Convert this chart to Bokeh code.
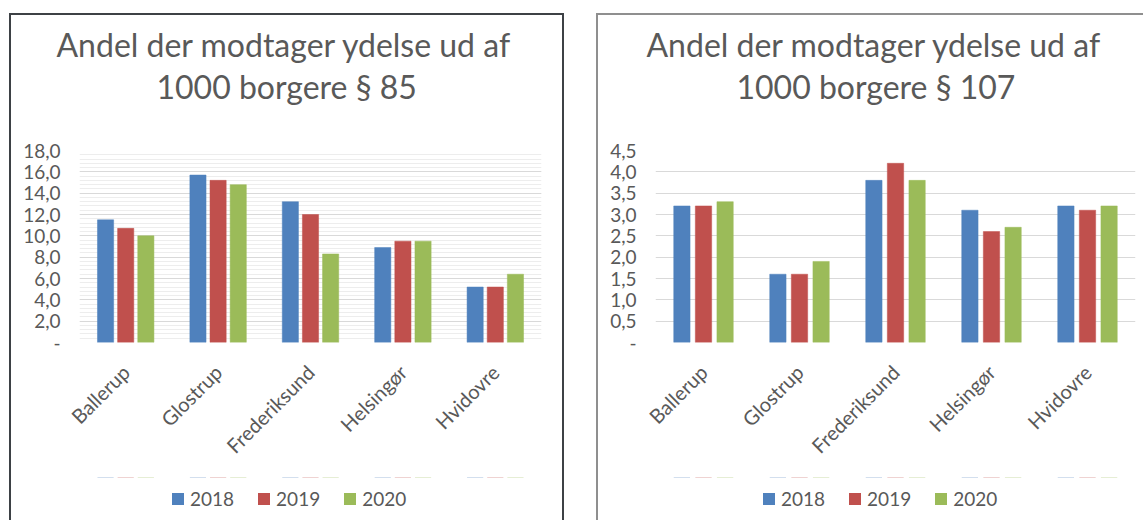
import math
from bokeh.plotting import figure
from bokeh.layouts import row, column
from bokeh.models import (FactorRange, Range1d, ColumnDataSource, Title, Legend,
                          LegendItem, SingleIntervalTicker)
from bokeh.transform import dodge
from bokeh.embed import file_html
from bokeh.resources import INLINE

# ---------------- data ----------------
municipalities = ["Ballerup", "Glostrup", "Frederiksund", "Helsingør", "Hvidovre"]
years = ["2018", "2019", "2020"]

p85_2018 = [11.5, 15.7, 13.2, 8.9, 5.2]
p85_2019 = [10.7, 15.2, 12.0, 9.5, 5.2]
p85_2020 = [10.0, 14.8, 8.3, 9.5, 6.4]

p107_2018 = [3.2, 1.6, 3.8, 3.1, 3.2]
p107_2019 = [3.2, 1.6, 4.2, 2.6, 3.1]
p107_2020 = [3.3, 1.9, 3.8, 2.7, 3.2]

ticks_85 = [0, 2, 4, 6, 8, 10, 12, 14, 16, 18]
tick_labels_85 = ["-", "2,0", "4,0", "6,0", "8,0", "10,0", "12,0", "14,0", "16,0", "18,0"]
ticks_107 = [0, 0.5, 1.0, 1.5, 2.0, 2.5, 3.0, 3.5, 4.0, 4.5]
tick_labels_107 = ["-", "0,5", "1,0", "1,5", "2,0", "2,5", "3,0", "3,5", "4,0", "4,5"]

title_85 = ["Andel der modtager ydelse ud af", "1000 borgere § 85"]
title_107 = ["Andel der modtager ydelse ud af", "1000 borgere § 107"]

colors = ["#4f81bd", "#c0504d", "#9bbb59"]

FONT = "Lato"
GREY = "#595959"


def make_panel(series, ticks, tick_labels, titles, frame_left, frame_width, right_pad,
               minor, bar_w, bar_step, title_offsets, legend_x, border_styles):
    total_w = frame_left + frame_width + right_pad
    src = ColumnDataSource(dict(m=municipalities, **{y: s for y, s in zip(years, series)}))
    p = figure(x_range=FactorRange(*municipalities), y_range=Range1d(ticks[0], ticks[-1]),
               frame_width=frame_width, frame_height=192, title=None,
               toolbar_location=None, output_backend="svg",
               min_border_left=frame_left, min_border_right=right_pad,
               min_border_top=135, min_border_bottom=135)
    p.outline_line_color = None
    p.background_fill_color = "white"
    p.border_fill_color = "white"

    offsets = [-bar_step, 0.0, bar_step]
    for y, c, off in zip(years, colors, offsets):
        p.vbar(x=dodge("m", off, range=p.x_range), top=y, width=bar_w, source=src,
               fill_color=c, line_color=c, line_width=0.5)

    # y axis
    p.yaxis.ticker = SingleIntervalTicker(interval=ticks[1] - ticks[0],
                                          num_minor_ticks=5 if minor else 0)
    p.yaxis.major_label_overrides = {t: l for t, l in zip(ticks, tick_labels)}
    p.yaxis.axis_line_color = None
    p.yaxis.major_tick_line_color = None
    p.yaxis.minor_tick_line_color = None
    p.yaxis.major_label_text_color = GREY
    p.yaxis.major_label_text_font = FONT
    p.yaxis.major_label_text_font_size = "19px"
    p.yaxis.major_label_standoff = 13

    # x axis
    p.xaxis.axis_line_color = None
    p.xaxis.major_tick_line_color = None
    p.xaxis.minor_tick_line_color = None
    p.xaxis.major_label_orientation = math.pi / 4
    p.xaxis.major_label_text_color = GREY
    p.xaxis.major_label_text_font = FONT
    p.xaxis.major_label_text_font_size = "20px"
    p.xaxis.major_label_standoff = 20

    # grid
    p.xgrid.grid_line_color = None
    p.ygrid.grid_line_color = "#d9d9d9"
    p.ygrid.grid_line_width = 1
    if minor:
        p.ygrid.minor_grid_line_color = "#ededed"
        p.ygrid.minor_grid_line_width = 1

    # two-line title; an empty spacer keeps the gap above the plot area
    spacer = Title(text=" ", standoff=30, text_font=FONT, text_font_size="10px")
    t2 = Title(text=titles[1], align="left", offset=title_offsets[1], standoff=1,
               text_font=FONT, text_font_size="32px", text_font_style="normal",
               text_color=GREY)
    t1 = Title(text=titles[0], align="left", offset=title_offsets[0], standoff=1,
               text_font=FONT, text_font_size="32px", text_font_style="normal",
               text_color=GREY)
    p.add_layout(spacer, "above")
    p.add_layout(t2, "above")
    p.add_layout(t1, "above")

    # legend strip below the chart: same series, drawn far out of view, only the legend shows
    lg = figure(x_range=p.x_range, y_range=Range1d(-20, -19), width=total_w, height=43,
                toolbar_location=None, output_backend="svg",
                x_axis_type=None, y_axis_type=None, min_border=0, title=None)
    lg.outline_line_color = None
    lg.xgrid.grid_line_color = None
    lg.ygrid.grid_line_color = None
    swatches = []
    for y, c, off in zip(years, colors, offsets):
        swatches.append(lg.vbar(x=dodge("m", off, range=lg.x_range), top=y, width=bar_w,
                                source=src, fill_color=c, line_color=None))
    legend = Legend(items=[LegendItem(label=y, renderers=[r]) for y, r in zip(years, swatches)],
                    orientation="horizontal", location=(legend_x, 10),
                    border_line_color=None, background_fill_alpha=0,
                    glyph_width=15, glyph_height=15, label_text_font=FONT,
                    label_text_font_size="19px", label_text_color=GREY,
                    label_standoff=5, spacing=22, padding=0, margin=0)
    lg.add_layout(legend)

    col = column(p, lg, styles=border_styles)
    col.spacing = 0
    return col


c1 = make_panel([p85_2018, p85_2019, p85_2020], ticks_85, tick_labels_85, title_85,
                frame_left=68, frame_width=462, right_pad=21, minor=True,
                bar_w=0.175, bar_step=0.218, title_offsets=[-23, 77], legend_x=91,
                border_styles={"border-top": "2px solid #3d4145",
                               "border-left": "2px solid #3d4145",
                               "border-right": "2px solid #3d4145"})
c2 = make_panel([p107_2018, p107_2019, p107_2020], ticks_107, tick_labels_107, title_107,
                frame_left=57, frame_width=480, right_pad=8, minor=False,
                bar_w=0.17, bar_step=0.225, title_offsets=[-9, 81], legend_x=106,
                border_styles={"border-top": "2px solid #8f8f8f",
                               "border-left": "2px solid #8f8f8f"})

c1.margin = (13, 0, 0, 9)
c2.margin = (13, 0, 0, 32)

layout = row(c1, c2)
layout.spacing = 0

open("out.html", "w").write(file_html(layout, INLINE))
